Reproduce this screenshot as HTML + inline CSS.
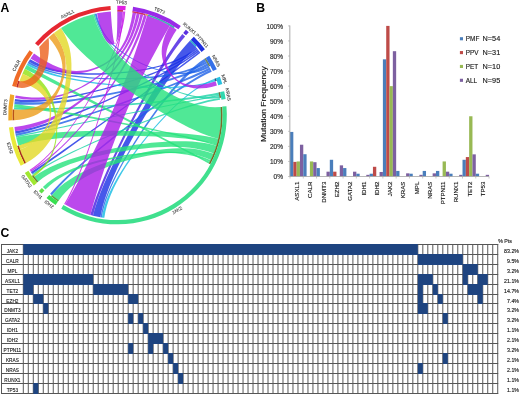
<!DOCTYPE html>
<html><head><meta charset="utf-8"><style>
html,body{margin:0;padding:0;background:#fff;}
body{width:520px;height:394px;overflow:hidden;}
svg{display:block;font-family:"Liberation Sans",sans-serif;will-change:transform;}
text{stroke:#1a1a1a;stroke-width:0.14px;}
text.lb{stroke:#444;stroke-width:0.1px;}
text.big{stroke:none;}
</style></head><body>
<svg width="520" height="394" viewBox="0 0 520 394">
<rect width="520" height="394" fill="#fff"/>
<g id="chords">
<path d="M189.93,40.78 A103.7,103.7 0 0 1 196.24,47.51 L191.78,51.56 187.40,55.97 183.09,60.71 178.83,65.75 174.62,71.07 170.46,76.63 166.34,82.41 162.26,88.38 158.22,94.52 154.22,100.81 150.26,107.22 146.34,113.73 142.48,120.31 138.68,126.96 134.95,133.65 131.31,140.35 127.76,147.07 124.32,153.77 121.00,160.44 117.83,167.08 114.82,173.66 112.00,180.17 109.39,186.61 107.01,192.95 104.89,199.20 103.06,205.34 101.55,211.37 L100.38,217.28 A103.7,103.7 0 0 1 92.94,215.75 L94.50,209.91 96.37,203.92 98.52,197.77 100.91,191.49 103.53,185.09 106.36,178.58 109.37,171.96 112.53,165.26 115.84,158.49 119.28,151.66 122.82,144.80 126.46,137.90 130.17,131.01 133.95,124.12 137.79,117.27 141.67,110.46 145.59,103.72 149.53,97.08 153.50,90.55 157.49,84.15 161.50,77.92 165.51,71.86 169.54,66.01 173.58,60.40 177.64,55.04 181.71,49.96 185.80,45.20 Z" fill="#182ee5" fill-opacity="0.8"/>
<path d="M196.24,47.51 A103.7,103.7 0 0 1 197.40,48.90 L192.69,52.46 187.71,55.63 182.49,58.45 177.03,60.94 171.36,63.15 165.51,65.10 159.50,66.82 153.33,68.33 147.05,69.65 140.65,70.81 134.17,71.80 127.63,72.65 121.03,73.35 114.41,73.92 107.78,74.35 101.15,74.64 94.55,74.78 88.00,74.77 81.50,74.58 75.09,74.21 68.77,73.64 62.57,72.84 56.49,71.79 50.56,70.45 44.79,68.80 39.20,66.80 33.80,64.41 L28.61,61.59 A103.7,103.7 0 0 1 30.14,59.13 L35.24,62.09 40.54,64.60 46.04,66.71 51.72,68.46 57.55,69.89 63.52,71.03 69.63,71.91 75.85,72.56 82.16,72.99 88.55,73.24 95.00,73.31 101.49,73.22 108.01,72.98 114.53,72.60 121.05,72.07 127.54,71.40 133.98,70.58 140.36,69.62 146.65,68.48 152.84,67.17 158.91,65.67 164.83,63.95 170.59,61.99 176.17,59.76 181.54,57.23 186.69,54.38 191.60,51.15 Z" fill="#182ee5" fill-opacity="0.8"/>
<path d="M197.40,48.90 A103.7,103.7 0 0 1 198.43,50.16 L193.63,53.76 188.49,57.16 183.04,60.38 177.31,63.44 171.32,66.36 165.11,69.16 158.69,71.83 152.08,74.41 145.33,76.89 138.44,79.28 131.43,81.58 124.34,83.81 117.19,85.94 109.99,88.00 102.76,89.96 95.53,91.83 88.31,93.58 81.12,95.23 73.99,96.74 66.92,98.11 59.94,99.31 53.05,100.34 46.29,101.15 39.65,101.75 33.17,102.08 26.84,102.14 20.68,101.89 L14.71,101.29 A103.7,103.7 0 0 1 15.05,98.96 L21.00,99.68 27.13,100.06 33.43,100.11 39.88,99.87 46.48,99.36 53.21,98.63 60.05,97.68 66.98,96.55 74.00,95.24 81.09,93.79 88.23,92.21 95.40,90.50 102.58,88.68 109.75,86.76 116.90,84.75 124.00,82.65 131.03,80.46 137.98,78.18 144.81,75.81 151.52,73.34 158.06,70.78 164.43,68.10 170.58,65.30 176.51,62.36 182.19,59.27 187.58,56.01 192.66,52.56 Z" fill="#182ee5" fill-opacity="0.8"/>
<path d="M198.43,50.16 A103.7,103.7 0 0 1 199.44,51.44 L194.58,55.05 189.39,58.62 183.90,62.16 178.13,65.68 172.11,69.17 165.87,72.64 159.42,76.09 152.79,79.52 146.01,82.94 139.10,86.33 132.09,89.69 124.98,93.03 117.82,96.33 110.61,99.59 103.37,102.79 96.13,105.94 88.91,109.01 81.73,112.00 74.59,114.89 67.53,117.66 60.55,120.32 53.68,122.82 46.93,125.17 40.32,127.33 33.85,129.29 27.55,131.02 21.43,132.51 L15.50,133.72 A103.7,103.7 0 0 1 15.08,131.22 L21.03,130.14 27.16,128.78 33.47,127.16 39.94,125.31 46.56,123.25 53.31,121.00 60.17,118.57 67.14,116.00 74.19,113.29 81.31,110.47 88.48,107.55 95.68,104.53 102.90,101.44 110.11,98.29 117.30,95.08 124.44,91.82 131.52,88.52 138.51,85.18 145.39,81.82 152.13,78.42 158.73,75.00 165.14,71.56 171.35,68.08 177.32,64.58 183.05,61.04 188.49,57.46 193.63,53.84 Z" fill="#182ee5" fill-opacity="0.8"/>
<path d="M199.44,51.44 A103.7,103.7 0 0 1 200.43,52.74 L195.56,56.38 190.44,60.18 185.10,64.13 179.54,68.22 173.80,72.43 167.88,76.75 161.82,81.18 155.62,85.68 149.30,90.27 142.89,94.91 136.40,99.60 129.86,104.33 123.27,109.08 116.66,113.84 110.05,118.59 103.46,123.33 96.90,128.04 90.39,132.70 83.95,137.31 77.60,141.84 71.36,146.29 65.24,150.64 59.27,154.88 53.45,158.99 47.81,162.96 42.37,166.78 37.14,170.42 L32.14,173.89 A103.7,103.7 0 0 1 30.93,172.08 L35.99,168.72 41.28,165.16 46.77,161.43 52.46,157.53 58.31,153.48 64.33,149.30 70.48,145.00 76.75,140.59 83.12,136.10 89.58,131.53 96.10,126.90 102.68,122.22 109.29,117.51 115.91,112.77 122.52,108.03 129.11,103.30 135.66,98.58 142.15,93.90 148.55,89.25 154.86,84.67 161.05,80.15 167.10,75.72 173.00,71.37 178.72,67.13 184.24,63.01 189.55,59.01 194.62,55.15 Z" fill="#182ee5" fill-opacity="0.8"/>
<path d="M204.57,58.67 A103.7,103.7 0 0 1 206.20,61.28 L201.19,64.56 196.28,68.22 191.47,72.25 186.73,76.60 182.06,81.24 177.46,86.15 172.91,91.29 168.41,96.64 163.97,102.17 159.57,107.87 155.23,113.69 150.95,119.63 146.74,125.66 142.60,131.77 138.54,137.93 134.58,144.14 130.73,150.36 127.01,156.60 123.43,162.84 120.02,169.06 116.80,175.26 113.79,181.43 111.02,187.57 108.51,193.65 106.31,199.70 104.43,205.69 102.92,211.62 L101.81,217.51 A103.7,103.7 0 0 1 100.38,217.28 L101.57,211.40 103.15,205.46 105.08,199.45 107.33,193.38 109.87,187.25 112.67,181.07 115.71,174.84 118.95,168.57 122.37,162.28 125.96,155.97 129.69,149.65 133.54,143.34 137.50,137.05 141.55,130.80 145.68,124.59 149.88,118.46 154.14,112.42 158.46,106.49 162.83,100.69 167.24,95.05 171.70,89.59 176.21,84.33 180.77,79.30 185.39,74.54 190.07,70.06 194.82,65.90 199.64,62.10 Z" fill="#1d60e7" fill-opacity="0.8"/>
<path d="M206.20,61.28 A103.7,103.7 0 0 1 207.40,63.31 L202.13,66.07 196.60,68.47 190.84,70.55 184.86,72.34 178.69,73.87 172.34,75.17 165.83,76.25 159.18,77.15 152.42,77.88 145.56,78.45 138.62,78.88 131.62,79.18 124.59,79.35 117.53,79.41 110.47,79.34 103.44,79.16 96.44,78.84 89.50,78.40 82.64,77.82 75.88,77.08 69.24,76.17 62.73,75.07 56.38,73.77 50.21,72.23 44.24,70.43 38.48,68.33 32.96,65.92 L27.69,63.15 A103.7,103.7 0 0 1 28.61,61.59 L33.82,64.44 39.29,66.93 44.98,69.07 50.89,70.92 56.99,72.50 63.27,73.83 69.70,74.95 76.27,75.87 82.95,76.62 89.73,77.21 96.59,77.65 103.51,77.95 110.46,78.13 117.44,78.17 124.41,78.10 131.36,77.90 138.28,77.57 145.13,77.11 151.91,76.50 158.59,75.73 165.16,74.79 171.59,73.64 177.86,72.29 183.95,70.69 189.86,68.82 195.54,66.65 201.00,64.15 Z" fill="#1d60e7" fill-opacity="0.8"/>
<path d="M207.40,63.31 A103.7,103.7 0 0 1 208.63,65.52 L203.26,68.26 197.57,70.85 191.58,73.31 185.33,75.64 178.83,77.86 172.12,79.98 165.21,82.02 158.14,83.97 150.91,85.85 143.56,87.67 136.11,89.41 128.58,91.09 121.00,92.71 113.38,94.26 105.74,95.75 98.11,97.16 90.51,98.48 82.96,99.72 75.48,100.86 68.08,101.89 60.80,102.79 53.64,103.55 46.62,104.16 39.77,104.59 33.10,104.83 26.64,104.85 20.38,104.64 L14.37,104.16 A103.7,103.7 0 0 1 14.71,101.29 L20.70,101.92 26.93,102.27 33.36,102.37 39.99,102.24 46.80,101.91 53.77,101.39 60.89,100.70 68.12,99.87 75.46,98.90 82.89,97.82 90.39,96.63 97.93,95.34 105.49,93.97 113.07,92.52 120.63,90.99 128.15,89.39 135.62,87.71 143.00,85.97 150.28,84.16 157.44,82.27 164.46,80.29 171.30,78.23 177.94,76.06 184.37,73.79 190.55,71.39 196.47,68.86 202.09,66.17 Z" fill="#1d60e7" fill-opacity="0.8"/>
<path d="M208.63,65.52 A103.7,103.7 0 0 1 209.65,67.44 L204.43,69.84 199.28,71.65 194.20,72.93 189.17,73.73 184.20,74.09 179.26,74.06 174.37,73.69 169.52,73.01 164.70,72.04 159.93,70.83 155.20,69.38 150.51,67.74 145.89,65.90 141.34,63.88 136.87,61.69 132.49,59.33 128.21,56.80 124.07,54.11 120.07,51.23 116.23,48.16 112.59,44.88 109.16,41.37 105.97,37.61 103.05,33.56 100.43,29.20 98.14,24.49 96.22,19.38 L94.70,13.84 A103.7,103.7 0 0 1 96.65,13.42 L98.05,18.98 99.86,24.10 102.03,28.81 104.54,33.16 107.34,37.19 110.42,40.93 113.73,44.41 117.26,47.65 120.98,50.68 124.86,53.51 128.89,56.16 133.04,58.64 137.30,60.94 141.66,63.07 146.10,65.03 150.60,66.81 155.17,68.39 159.79,69.77 164.46,70.91 169.17,71.80 173.92,72.41 178.72,72.71 183.56,72.65 188.45,72.20 193.39,71.31 198.39,69.94 203.47,68.03 Z" fill="#1d60e7" fill-opacity="0.8"/>
<path d="M209.65,67.44 A103.7,103.7 0 0 1 210.70,69.54 L205.22,72.14 199.43,74.76 193.35,77.38 187.02,80.01 180.45,82.66 173.68,85.31 166.71,87.98 159.59,90.65 152.32,93.33 144.93,96.00 137.45,98.67 129.89,101.33 122.28,103.98 114.63,106.60 106.98,109.20 99.34,111.76 91.73,114.28 84.18,116.74 76.70,119.14 69.31,121.47 62.04,123.72 54.90,125.87 47.91,127.91 41.10,129.83 34.48,131.62 28.07,133.26 21.89,134.73 L15.95,136.03 A103.7,103.7 0 0 1 15.50,133.72 L21.46,132.55 27.66,131.18 34.08,129.64 40.70,127.93 47.52,126.08 54.50,124.10 61.63,122.01 68.90,119.81 76.27,117.52 83.74,115.15 91.28,112.71 98.87,110.22 106.49,107.67 114.12,105.09 121.73,102.47 129.32,99.82 136.85,97.15 144.30,94.47 151.66,91.78 158.90,89.08 165.99,86.38 172.91,83.68 179.65,80.97 186.17,78.27 192.46,75.57 198.48,72.86 204.22,70.15 Z" fill="#1d60e7" fill-opacity="0.8"/>
<path d="M210.70,69.54 A103.7,103.7 0 0 1 211.71,71.67 L206.26,74.30 200.68,77.24 194.98,80.46 189.17,83.93 183.26,87.63 177.25,91.53 171.16,95.62 165.00,99.86 158.78,104.25 152.52,108.76 146.22,113.38 139.91,118.08 133.60,122.86 127.31,127.69 121.05,132.56 114.83,137.47 108.69,142.39 102.64,147.31 96.69,152.24 90.88,157.15 85.22,162.04 79.73,166.90 74.44,171.73 69.37,176.53 64.55,181.28 60.00,185.98 55.74,190.64 L51.82,195.25 A103.7,103.7 0 0 1 50.15,193.85 L54.17,189.32 58.50,184.72 63.13,180.06 68.02,175.35 73.15,170.58 78.50,165.77 84.04,160.92 89.75,156.03 95.61,151.12 101.59,146.19 107.68,141.25 113.86,136.31 120.10,131.38 126.39,126.48 132.71,121.62 139.04,116.81 145.37,112.07 151.68,107.41 157.95,102.85 164.17,98.41 170.33,94.10 176.42,89.95 182.42,85.98 188.32,82.20 194.10,78.65 199.77,75.34 205.31,72.29 Z" fill="#1d60e7" fill-opacity="0.8"/>
<path d="M182.34,34.07 A103.7,103.7 0 0 1 185.12,36.38 L181.27,41.05 177.43,46.05 173.61,51.35 169.80,56.93 166.00,62.77 162.20,68.82 158.41,75.09 154.62,81.52 150.85,88.12 147.09,94.84 143.35,101.67 139.63,108.59 135.95,115.58 132.30,122.61 128.71,129.66 125.17,136.73 121.71,143.78 118.33,150.79 115.05,157.77 111.89,164.67 108.86,171.50 105.97,178.22 103.26,184.84 100.73,191.33 98.41,197.68 96.32,203.87 94.49,209.90 L92.94,215.75 A103.7,103.7 0 0 1 90.31,215.07 L92.00,209.25 93.96,203.24 96.15,197.06 98.55,190.71 101.16,184.21 103.94,177.57 106.87,170.82 109.95,163.96 113.14,157.01 116.44,149.99 119.84,142.92 123.31,135.82 126.85,128.70 130.44,121.58 134.08,114.48 137.75,107.43 141.44,100.44 145.15,93.53 148.88,86.73 152.61,80.05 156.34,73.53 160.06,67.17 163.79,61.02 167.51,55.09 171.22,49.40 174.93,43.98 178.63,38.86 Z" fill="#451ae2" fill-opacity="0.8"/>
<path d="M214.63,78.68 A103.7,103.7 0 0 1 215.07,79.87 L209.57,82.11 204.20,84.77 198.95,87.83 193.80,91.25 188.75,94.98 183.78,99.01 178.88,103.29 174.05,107.80 169.28,112.51 164.58,117.40 159.95,122.44 155.39,127.62 150.91,132.90 146.51,138.28 142.21,143.74 138.02,149.26 133.96,154.83 130.04,160.45 126.28,166.09 122.71,171.76 119.35,177.46 116.23,183.17 113.38,188.89 110.83,194.64 108.61,200.40 106.76,206.19 105.32,212.00 L104.32,217.86 A103.7,103.7 0 0 1 101.81,217.51 L102.95,211.67 104.52,205.86 106.49,200.08 108.83,194.31 111.50,188.56 114.46,182.83 117.69,177.10 121.15,171.39 124.82,165.70 128.67,160.03 132.68,154.39 136.84,148.79 141.11,143.24 145.50,137.75 149.97,132.34 154.53,127.02 159.17,121.81 163.87,116.73 168.63,111.80 173.45,107.04 178.33,102.49 183.27,98.16 188.28,94.08 193.37,90.30 198.53,86.83 203.79,83.71 209.15,80.98 Z" fill="#10bae2" fill-opacity="0.8"/>
<path d="M215.07,79.87 A103.7,103.7 0 0 1 215.55,81.24 L209.82,83.00 203.85,84.45 197.65,85.62 191.24,86.53 184.64,87.22 177.88,87.69 170.96,87.99 163.91,88.12 156.75,88.11 149.50,87.95 142.18,87.68 134.80,87.30 127.39,86.81 119.97,86.22 112.55,85.54 105.17,84.76 97.83,83.88 90.57,82.90 83.40,81.82 76.34,80.61 69.42,79.29 62.65,77.82 56.07,76.19 49.68,74.39 43.53,72.40 37.61,70.20 31.97,67.75 L26.63,65.04 A103.7,103.7 0 0 1 27.69,63.15 L32.98,65.96 38.56,68.50 44.41,70.79 50.50,72.85 56.83,74.72 63.35,76.40 70.05,77.92 76.91,79.30 83.91,80.54 91.02,81.67 98.22,82.68 105.49,83.59 112.82,84.39 120.17,85.10 127.53,85.71 134.88,86.21 142.20,86.61 149.47,86.89 156.66,87.04 163.77,87.05 170.77,86.91 177.63,86.60 184.35,86.10 190.90,85.38 197.27,84.43 203.43,83.22 209.37,81.71 Z" fill="#10bae2" fill-opacity="0.8"/>
<path d="M218.70,92.38 A103.7,103.7 0 0 1 219.19,94.68 L213.22,95.80 206.96,96.86 200.42,97.86 193.62,98.80 186.60,99.69 179.37,100.54 171.96,101.35 164.39,102.13 156.68,102.87 148.85,103.58 140.94,104.27 132.95,104.92 124.92,105.55 116.86,106.15 108.80,106.72 100.76,107.26 92.76,107.76 84.83,108.23 76.98,108.65 69.24,109.03 61.64,109.36 54.19,109.63 46.91,109.83 39.84,109.96 32.98,110.01 26.36,109.97 20.01,109.82 L13.94,109.57 A103.7,103.7 0 0 1 14.08,107.41 L20.14,107.77 26.48,108.01 33.08,108.14 39.93,108.16 46.99,108.10 54.24,107.94 61.68,107.72 69.26,107.43 76.98,107.08 84.80,106.67 92.71,106.22 100.68,105.72 108.70,105.19 116.74,104.61 124.77,104.01 132.78,103.36 140.74,102.69 148.63,101.98 156.43,101.24 164.12,100.46 171.66,99.64 179.05,98.78 186.25,97.87 193.24,96.91 200.01,95.88 206.52,94.79 212.76,93.63 Z" fill="#1ad3a6" fill-opacity="0.8"/>
<path d="M219.19,94.68 A103.7,103.7 0 0 1 219.46,96.10 L213.49,97.22 207.22,98.41 200.70,99.66 193.93,100.97 186.94,102.34 179.75,103.76 172.38,105.22 164.86,106.72 157.21,108.25 149.45,109.80 141.60,111.39 133.69,112.99 125.73,114.60 117.75,116.22 109.77,117.84 101.81,119.47 93.90,121.09 86.06,122.70 78.31,124.30 70.67,125.88 63.16,127.44 55.81,128.97 48.64,130.48 41.67,131.95 34.92,133.39 28.43,134.78 22.20,136.14 L16.26,137.44 A103.7,103.7 0 0 1 15.95,136.03 L21.91,134.80 28.15,133.51 34.66,132.17 41.42,130.78 48.40,129.35 55.58,127.88 62.93,126.38 70.45,124.84 78.09,123.28 85.85,121.70 93.70,120.10 101.61,118.49 109.57,116.87 117.55,115.24 125.53,113.62 133.49,112.00 141.40,110.39 149.25,108.80 157.01,107.23 164.66,105.68 172.17,104.15 179.53,102.66 186.72,101.21 193.70,99.80 200.46,98.44 206.98,97.13 213.23,95.87 Z" fill="#1ad3a6" fill-opacity="0.8"/>
<path d="M219.46,96.10 A103.7,103.7 0 0 1 219.78,97.88 L213.98,98.58 208.28,98.75 202.65,98.44 197.09,97.71 191.59,96.58 186.14,95.10 180.74,93.31 175.38,91.25 170.07,88.93 164.81,86.40 159.59,83.66 154.44,80.75 149.35,77.67 144.34,74.45 139.41,71.10 134.60,67.62 129.90,64.01 125.35,60.28 120.95,56.42 116.75,52.44 112.75,48.32 109.00,44.04 105.51,39.60 102.32,34.98 99.47,30.15 96.99,25.09 94.91,19.77 L93.29,14.17 A103.7,103.7 0 0 1 94.70,13.84 L96.24,19.46 98.24,24.78 100.64,29.83 103.42,34.65 106.53,39.26 109.94,43.67 113.63,47.92 117.55,52.00 121.68,55.95 126.00,59.76 130.49,63.44 135.11,67.00 139.86,70.43 144.71,73.73 149.66,76.89 154.68,79.90 159.77,82.75 164.92,85.42 170.13,87.89 175.38,90.14 180.69,92.13 186.04,93.85 191.44,95.24 196.90,96.29 202.42,96.94 208.01,97.16 213.69,96.90 Z" fill="#1ad3a6" fill-opacity="0.8"/>
<path d="M219.78,97.88 A103.7,103.7 0 0 1 220.09,99.85 L214.12,100.86 207.95,102.12 201.59,103.63 195.05,105.35 188.36,107.27 181.52,109.36 174.55,111.61 167.48,114.00 160.31,116.51 153.06,119.14 145.76,121.85 138.42,124.65 131.07,127.51 123.71,130.44 116.37,133.42 109.07,136.45 101.84,139.51 94.69,142.60 87.65,145.72 80.74,148.87 73.98,152.04 67.39,155.24 61.01,158.46 54.85,161.71 48.94,164.99 43.31,168.31 37.97,171.67 L32.97,175.07 A103.7,103.7 0 0 1 32.14,173.89 L37.19,170.54 42.56,167.23 48.24,163.96 54.18,160.70 60.38,157.47 66.80,154.26 73.41,151.07 80.20,147.90 87.14,144.74 94.21,141.61 101.38,138.50 108.64,135.42 115.96,132.37 123.32,129.36 130.69,126.40 138.07,123.49 145.43,120.66 152.74,117.90 160.00,115.23 167.18,112.67 174.27,110.22 181.24,107.91 188.08,105.75 194.78,103.76 201.31,101.96 207.66,100.36 213.82,99.00 Z" fill="#1ad3a6" fill-opacity="0.8"/>
<path d="M218.46,138.68 A103.7,103.7 0 0 1 216.88,144.63 L211.05,143.05 204.94,141.67 198.58,140.49 191.97,139.48 185.15,138.62 178.14,137.90 170.95,137.31 163.61,136.82 156.14,136.43 148.56,136.13 140.90,135.92 133.17,135.78 125.40,135.72 117.61,135.72 109.82,135.80 102.05,135.95 94.32,136.16 86.66,136.46 79.09,136.83 71.62,137.30 64.29,137.86 57.11,138.54 50.10,139.33 43.29,140.26 36.69,141.34 30.34,142.59 24.25,144.02 L18.44,145.66 A103.7,103.7 0 0 1 16.26,137.44 L22.19,136.25 28.42,135.21 34.90,134.32 41.63,133.57 48.58,132.92 55.73,132.39 63.05,131.95 70.53,131.59 78.14,131.31 85.86,131.10 93.67,130.95 101.54,130.87 109.46,130.83 117.40,130.86 125.34,130.93 133.26,131.06 141.13,131.24 148.94,131.49 156.66,131.79 164.26,132.16 171.74,132.61 179.05,133.14 186.19,133.76 193.14,134.49 199.86,135.33 206.33,136.30 212.54,137.41 Z" fill="#24e27c" fill-opacity="0.8"/>
<path d="M216.93,144.45 A103.7,103.7 0 0 1 216.51,145.84 L210.69,144.09 204.57,142.37 198.17,140.67 191.52,138.99 184.63,137.32 177.53,135.67 170.25,134.04 162.80,132.41 155.22,130.80 147.52,129.20 139.72,127.62 131.85,126.06 123.93,124.51 115.98,122.99 108.03,121.49 100.10,120.03 92.20,118.60 84.37,117.22 76.61,115.88 68.97,114.60 61.44,113.38 54.07,112.23 46.86,111.17 39.84,110.19 33.03,109.32 26.46,108.55 20.13,107.91 L14.08,107.41 A103.7,103.7 0 0 1 14.37,104.16 L20.41,104.84 26.72,105.65 33.29,106.57 40.09,107.58 47.10,108.69 54.30,109.88 61.67,111.14 69.20,112.47 76.84,113.86 84.60,115.29 92.43,116.77 100.33,118.28 108.27,119.83 116.23,121.40 124.18,122.99 132.10,124.60 139.98,126.22 147.79,127.86 155.50,129.50 163.09,131.15 170.55,132.80 177.85,134.46 184.96,136.11 191.86,137.77 198.53,139.44 204.95,141.10 211.09,142.77 Z" fill="#24e27c" fill-opacity="0.8"/>
<path d="M216.51,145.84 A103.7,103.7 0 0 1 213.78,153.51 L208.18,151.53 202.39,149.94 196.42,148.73 190.28,147.84 184.00,147.25 177.58,146.92 171.04,146.83 164.39,146.96 157.66,147.27 150.86,147.76 144.00,148.40 137.11,149.19 130.20,150.11 123.29,151.15 116.40,152.32 109.55,153.60 102.76,155.01 96.04,156.54 89.43,158.20 82.93,160.00 76.58,161.96 70.40,164.09 64.40,166.40 58.62,168.93 53.07,171.69 47.77,174.71 42.76,178.02 L38.06,181.66 A103.7,103.7 0 0 1 34.14,176.68 L39.07,173.31 44.31,170.21 49.84,167.35 55.63,164.72 61.67,162.29 67.91,160.04 74.35,157.95 80.96,156.00 87.71,154.19 94.58,152.49 101.56,150.91 108.61,149.44 115.73,148.07 122.88,146.80 130.05,145.65 137.22,144.60 144.37,143.67 151.47,142.87 158.52,142.21 165.49,141.70 172.37,141.37 179.14,141.23 185.78,141.30 192.28,141.61 198.61,142.19 204.77,143.07 210.74,144.27 Z" fill="#24e27c" fill-opacity="0.8"/>
<path d="M213.65,153.85 A103.7,103.7 0 0 1 210.94,159.97 L205.55,157.67 200.07,155.88 194.49,154.55 188.83,153.64 183.09,153.10 177.27,152.89 171.40,152.98 165.47,153.34 159.50,153.94 153.50,154.76 147.47,155.77 141.44,156.96 135.43,158.32 129.43,159.84 123.47,161.50 117.58,163.31 111.75,165.27 106.02,167.39 100.41,169.66 94.93,172.11 89.60,174.74 84.46,177.58 79.52,180.65 74.81,183.98 70.35,187.59 66.17,191.51 62.30,195.79 L58.76,200.46 A103.7,103.7 0 0 1 51.82,195.25 L55.75,190.85 60.01,186.81 64.59,183.08 69.44,179.64 74.55,176.45 79.88,173.49 85.42,170.74 91.14,168.17 97.01,165.77 103.02,163.52 109.14,161.42 115.35,159.46 121.64,157.63 127.97,155.94 134.35,154.38 140.74,152.97 147.13,151.71 153.50,150.61 159.85,149.69 166.16,148.98 172.41,148.49 178.59,148.24 184.69,148.28 190.70,148.62 196.61,149.31 202.41,150.38 208.09,151.88 Z" fill="#24e27c" fill-opacity="0.8"/>
<path d="M210.78,160.30 A103.7,103.7 0 0 1 209.98,161.92 L204.61,159.48 199.08,157.51 193.39,155.95 187.57,154.76 181.61,153.91 175.54,153.36 169.37,153.08 163.11,153.05 156.78,153.23 150.38,153.60 143.94,154.16 137.48,154.88 131.00,155.75 124.53,156.77 118.08,157.93 111.67,159.22 105.33,160.66 99.06,162.24 92.89,163.97 86.85,165.88 80.94,167.96 75.20,170.24 69.65,172.75 64.30,175.50 59.18,178.53 54.32,181.86 49.74,185.54 L45.46,189.60 A103.7,103.7 0 0 1 42.90,187.04 L47.33,183.12 52.05,179.57 57.06,176.35 62.32,173.42 67.81,170.76 73.50,168.34 79.38,166.14 85.43,164.13 91.61,162.29 97.92,160.62 104.32,159.09 110.80,157.70 117.34,156.45 123.92,155.33 130.53,154.35 137.13,153.51 143.73,152.81 150.29,152.27 156.80,151.91 163.25,151.73 169.62,151.77 175.89,152.04 182.06,152.57 188.10,153.39 194.01,154.53 199.77,156.04 205.36,157.95 Z" fill="#24e27c" fill-opacity="0.8"/>
<path d="M209.90,162.08 A103.7,103.7 0 0 1 209.06,163.68 L203.69,160.84 198.05,157.86 192.17,154.77 186.06,151.57 179.74,148.27 173.24,144.89 166.58,141.42 159.78,137.89 152.85,134.30 145.82,130.66 138.70,126.99 131.53,123.28 124.31,119.56 117.07,115.83 109.83,112.10 102.61,108.39 95.43,104.70 88.30,101.04 81.26,97.43 74.31,93.87 67.49,90.38 60.80,86.97 54.27,83.65 47.92,80.42 41.76,77.31 35.83,74.31 30.13,71.45 L24.70,68.73 A103.7,103.7 0 0 1 26.63,65.04 L31.96,67.96 37.56,71.01 43.40,74.18 49.47,77.46 55.74,80.83 62.20,84.30 68.82,87.84 75.58,91.46 82.46,95.13 89.45,98.85 96.52,102.61 103.65,106.39 110.83,110.20 118.02,114.01 125.22,117.82 132.40,121.61 139.54,125.38 146.62,129.12 153.63,132.81 160.54,136.44 167.32,140.00 173.98,143.48 180.47,146.88 186.79,150.17 192.91,153.34 198.81,156.39 204.48,159.31 Z" fill="#24e27c" fill-opacity="0.8"/>
<path d="M147.13,15.62 A103.7,103.7 0 0 1 169.98,25.56 L166.92,30.81 163.76,36.34 160.52,42.12 157.21,48.15 153.85,54.39 150.46,60.85 147.05,67.49 143.64,74.30 140.24,81.26 136.86,88.35 133.52,95.56 130.22,102.86 126.99,110.23 123.82,117.66 120.73,125.12 117.73,132.59 114.82,140.05 112.01,147.47 109.30,154.85 106.71,162.15 104.23,169.35 101.87,176.44 99.63,183.37 97.52,190.15 95.53,196.72 93.66,203.09 91.93,209.21 L90.31,215.07 A103.7,103.7 0 0 1 65.18,204.53 L68.23,199.28 71.39,193.75 74.63,187.96 77.95,181.93 81.32,175.69 84.73,169.24 88.17,162.60 91.62,155.80 95.07,148.85 98.50,141.77 101.90,134.58 105.26,127.29 108.57,119.94 111.83,112.54 115.01,105.11 118.11,97.66 121.13,90.23 124.06,82.84 126.89,75.49 129.61,68.23 132.22,61.06 134.71,54.02 137.09,47.12 139.35,40.39 141.48,33.85 143.49,27.52 145.37,21.44 Z" fill="#aa1ae7" fill-opacity="0.8"/>
<path d="M169.98,25.56 A103.7,103.7 0 0 1 176.68,29.85 L173.62,34.53 171.16,38.88 169.24,42.92 167.80,46.69 166.81,50.22 166.21,53.53 165.96,56.64 166.02,59.58 166.37,62.35 166.98,64.98 167.81,67.47 168.86,69.82 170.11,72.04 171.55,74.12 173.17,76.07 174.96,77.88 176.94,79.53 179.10,81.01 181.46,82.31 184.04,83.40 186.85,84.27 189.91,84.87 193.26,85.19 196.93,85.20 200.94,84.84 205.36,84.10 210.21,82.91 L215.55,81.24 A103.7,103.7 0 0 1 216.93,85.55 L211.49,86.97 206.52,87.89 201.95,88.36 197.76,88.43 193.89,88.13 190.33,87.50 187.02,86.58 183.96,85.40 181.12,83.99 178.48,82.36 176.03,80.55 173.75,78.56 171.65,76.42 169.72,74.13 167.96,71.71 166.39,69.15 165.01,66.46 163.83,63.65 162.89,60.69 162.20,57.59 161.79,54.34 161.69,50.91 161.94,47.30 162.58,43.48 163.65,39.42 165.20,35.10 167.29,30.49 Z" fill="#aa1ae7" fill-opacity="0.8"/>
<path d="M132.65,12.41 A103.7,103.7 0 0 1 136.04,12.97 L134.30,21.16 132.30,28.31 130.07,34.56 127.64,40.00 125.05,44.75 122.32,48.89 119.47,52.52 116.53,55.70 113.51,58.50 110.42,60.97 107.26,63.17 104.04,65.13 100.75,66.88 97.40,68.44 93.97,69.81 90.44,71.00 86.81,72.00 83.04,72.79 79.12,73.35 75.00,73.63 70.67,73.58 66.09,73.17 61.20,72.31 55.96,70.94 50.34,68.98 44.26,66.32 37.68,62.87 L30.53,58.52 A103.7,103.7 0 0 1 34.03,53.46 L40.89,58.22 47.18,62.04 52.99,65.04 58.35,67.31 63.32,68.95 67.96,70.06 72.30,70.70 76.40,70.96 80.27,70.87 83.97,70.50 87.51,69.89 90.92,69.05 94.22,68.01 97.43,66.79 100.56,65.37 103.63,63.76 106.62,61.93 109.56,59.85 112.42,57.49 115.21,54.80 117.91,51.72 120.52,48.18 123.00,44.11 125.34,39.42 127.51,34.02 129.47,27.79 131.20,20.63 Z" fill="#aa1ae7" fill-opacity="0.8"/>
<path d="M136.75,13.10 A103.7,103.7 0 0 1 139.77,13.72 L137.69,21.95 135.30,29.33 132.64,35.97 129.75,41.96 126.68,47.36 123.44,52.27 120.08,56.75 116.60,60.86 113.02,64.65 109.37,68.17 105.63,71.46 101.83,74.56 97.95,77.49 93.99,80.27 89.94,82.92 85.77,85.43 81.49,87.81 77.04,90.06 72.41,92.14 67.57,94.06 62.46,95.76 57.05,97.22 51.29,98.40 45.13,99.25 38.50,99.71 31.35,99.71 23.60,99.19 L15.19,98.06 A103.7,103.7 0 0 1 15.67,95.39 L24.04,96.73 31.72,97.45 38.81,97.62 45.36,97.32 51.45,96.61 57.12,95.56 62.44,94.21 67.45,92.61 72.20,90.79 76.72,88.79 81.07,86.63 85.25,84.33 89.30,81.88 93.24,79.31 97.09,76.59 100.85,73.72 104.54,70.68 108.14,67.44 111.67,63.97 115.10,60.22 118.44,56.15 121.65,51.70 124.72,46.82 127.61,41.42 130.31,35.44 132.76,28.79 134.92,21.37 Z" fill="#aa1ae7" fill-opacity="0.8"/>
<path d="M140.47,13.88 A103.7,103.7 0 0 1 143.29,14.56 L140.92,22.80 138.27,30.37 135.37,37.32 132.27,43.75 128.99,49.70 125.57,55.24 122.03,60.42 118.39,65.30 114.67,69.91 110.87,74.30 107.00,78.50 103.07,82.55 99.07,86.46 94.99,90.26 90.82,93.96 86.55,97.58 82.15,101.12 77.60,104.57 72.87,107.94 67.93,111.21 62.74,114.38 57.24,117.41 51.41,120.30 45.17,123.00 38.49,125.48 31.29,127.71 23.51,129.64 L15.08,131.22 A103.7,103.7 0 0 1 14.49,126.92 L22.96,125.69 30.76,124.07 37.97,122.12 44.65,119.89 50.87,117.42 56.68,114.75 62.13,111.91 67.29,108.92 72.18,105.81 76.86,102.59 81.35,99.27 85.68,95.87 89.89,92.38 93.99,88.80 97.99,85.11 101.92,81.30 105.77,77.36 109.55,73.26 113.25,68.96 116.88,64.43 120.40,59.62 123.82,54.51 127.11,49.02 130.23,43.10 133.17,36.70 135.89,29.75 138.33,22.17 Z" fill="#aa1ae7" fill-opacity="0.8"/>
<path d="M143.99,14.74 A103.7,103.7 0 0 1 146.78,15.52 L144.17,23.79 141.37,31.58 138.42,38.93 135.33,45.90 132.14,52.52 128.86,58.84 125.51,64.90 122.10,70.73 118.64,76.35 115.14,81.82 111.59,87.14 108.00,92.36 104.36,97.49 100.67,102.55 96.91,107.56 93.07,112.53 89.13,117.49 85.08,122.44 80.88,127.39 76.51,132.35 71.93,137.31 67.12,142.29 62.04,147.27 56.63,152.26 50.87,157.24 44.70,162.22 38.07,167.17 L30.93,172.08 A103.7,103.7 0 0 1 30.14,170.87 L37.34,166.05 44.01,161.18 50.20,156.28 55.97,151.36 61.37,146.43 66.44,141.49 71.22,136.56 75.76,131.63 80.10,126.70 84.25,121.78 88.26,116.85 92.14,111.92 95.92,106.96 99.62,101.96 103.25,96.91 106.81,91.80 110.33,86.59 113.79,81.27 117.21,75.81 120.57,70.18 123.88,64.35 127.11,58.28 130.26,51.95 133.31,45.30 136.23,38.30 139.01,30.91 141.60,23.07 Z" fill="#aa1ae7" fill-opacity="0.8"/>
<path d="M117.32,11.30 A103.7,103.7 0 0 1 122.57,11.42 L122.23,16.96 121.80,21.80 121.29,25.99 120.71,29.61 120.06,32.72 119.35,35.37 118.59,37.60 117.78,39.46 116.93,40.99 116.04,42.21 115.11,43.15 114.16,43.83 113.19,44.26 112.20,44.45 111.18,44.41 110.15,44.13 109.11,43.60 108.06,42.81 107.00,41.73 105.93,40.35 104.85,38.64 103.76,36.54 102.66,34.03 101.56,31.06 100.44,27.56 99.31,23.49 98.16,18.77 L97.00,13.35 A103.7,103.7 0 0 1 110.81,11.52 L111.18,17.05 111.54,21.86 111.89,26.02 112.23,29.61 112.55,32.67 112.87,35.27 113.18,37.45 113.48,39.24 113.77,40.70 114.06,41.85 114.34,42.72 114.61,43.32 114.88,43.67 115.14,43.78 115.39,43.65 115.63,43.28 115.87,42.67 116.09,41.78 116.30,40.62 116.49,39.14 116.68,37.33 116.84,35.14 116.98,32.53 117.10,29.45 117.20,25.85 117.27,21.67 117.31,16.84 Z" fill="#a61ae7" fill-opacity="0.8"/>
<path d="M122.57,11.42 A103.7,103.7 0 0 1 124.01,11.50 L123.51,17.54 122.77,23.80 121.80,30.26 120.64,36.92 119.30,43.76 117.80,50.76 116.15,57.89 114.38,65.15 112.49,72.51 110.50,79.96 108.42,87.47 106.26,95.03 104.04,102.61 101.75,110.20 99.42,117.77 97.03,125.31 94.61,132.78 92.14,140.18 89.64,147.47 87.10,154.63 84.53,161.65 81.92,168.49 79.26,175.13 76.56,181.56 73.81,187.73 71.00,193.64 68.13,199.25 L65.18,204.53 A103.7,103.7 0 0 1 64.09,203.89 L67.10,198.64 70.02,193.06 72.87,187.19 75.65,181.04 78.37,174.65 81.05,168.04 83.67,161.22 86.26,154.23 88.80,147.10 91.30,139.83 93.76,132.46 96.18,125.01 98.56,117.50 100.88,109.95 103.15,102.38 105.36,94.82 107.49,87.29 109.54,79.79 111.51,72.36 113.36,65.02 115.11,57.77 116.71,50.65 118.17,43.67 119.46,36.84 120.57,30.18 121.47,23.72 122.14,17.46 Z" fill="#c410e7" fill-opacity="0.8"/>
<path d="M124.01,11.50 A103.7,103.7 0 0 1 125.28,11.59 L124.61,17.53 123.54,23.53 122.09,29.60 120.31,35.72 118.22,41.89 115.86,48.12 113.25,54.39 110.43,60.69 107.41,67.02 104.23,73.36 100.89,79.72 97.42,86.06 93.83,92.38 90.14,98.66 86.36,104.89 82.50,111.04 78.56,117.10 74.55,123.05 70.47,128.87 66.33,134.52 62.12,140.00 57.83,145.26 53.47,150.29 49.03,155.06 44.48,159.53 39.83,163.68 35.05,167.47 L30.14,170.87 A103.7,103.7 0 0 1 29.56,169.95 L34.50,166.60 39.30,162.86 43.97,158.76 48.52,154.33 52.97,149.61 57.33,144.62 61.61,139.40 65.81,133.96 69.94,128.35 74.00,122.57 77.99,116.65 81.91,110.63 85.75,104.51 89.51,98.31 93.17,92.06 96.73,85.77 100.17,79.46 103.47,73.14 106.62,66.82 109.60,60.51 112.38,54.23 114.94,47.98 117.26,41.78 119.29,35.61 121.02,29.50 122.41,23.45 123.42,17.45 Z" fill="#c410e7" fill-opacity="0.8"/>
<path d="M22.40,73.65 A103.7,103.7 0 0 1 24.70,68.73 L29.68,71.48 34.07,74.44 37.92,77.59 41.29,80.91 44.22,84.39 46.77,88.01 48.97,91.76 50.85,95.62 52.46,99.57 53.80,103.61 54.91,107.71 55.80,111.87 56.47,116.07 56.94,120.30 57.21,124.55 57.28,128.80 57.13,133.05 56.75,137.28 56.12,141.49 55.23,145.66 54.05,149.79 52.53,153.86 50.65,157.87 48.36,161.80 45.62,165.66 42.38,169.43 38.57,173.11 L34.14,176.68 A103.7,103.7 0 0 1 32.97,175.07 L37.46,171.60 41.31,168.04 44.59,164.42 47.36,160.72 49.66,156.96 51.54,153.14 53.05,149.27 54.23,145.36 55.10,141.41 55.70,137.43 56.05,133.44 56.17,129.43 56.06,125.43 55.75,121.44 55.23,117.46 54.51,113.52 53.57,109.63 52.40,105.79 51.00,102.03 49.33,98.34 47.37,94.76 45.09,91.28 42.46,87.93 39.44,84.73 35.97,81.68 32.01,78.81 27.51,76.12 Z" fill="#92e210" fill-opacity="0.8"/>
<path d="M19.45,81.24 A103.7,103.7 0 0 1 22.40,73.65 L27.48,76.06 31.88,78.55 35.68,81.12 38.94,83.76 41.70,86.47 44.03,89.24 45.97,92.06 47.55,94.93 48.82,97.83 49.79,100.77 50.50,103.73 50.97,106.71 51.20,109.70 51.21,112.69 50.99,115.66 50.55,118.63 49.88,121.57 48.97,124.47 47.79,127.33 46.32,130.14 44.54,132.89 42.41,135.57 39.90,138.17 36.95,140.68 33.52,143.09 29.55,145.39 24.98,147.57 L19.75,149.62 A103.7,103.7 0 0 1 18.44,145.66 L23.73,143.86 28.35,141.95 32.35,139.95 35.80,137.86 38.76,135.69 41.27,133.45 43.39,131.15 45.14,128.80 46.58,126.40 47.72,123.96 48.59,121.48 49.21,118.98 49.59,116.46 49.74,113.94 49.67,111.40 49.37,108.88 48.82,106.36 48.03,103.86 46.97,101.38 45.61,98.93 43.93,96.53 41.89,94.16 39.45,91.84 36.56,89.59 33.18,87.39 29.24,85.26 24.69,83.21 Z" fill="#e2d824" fill-opacity="0.8"/>
<path d="M39.24,46.97 A103.7,103.7 0 0 1 48.65,37.45 C51.5,72 36,91 17.52,87.46 A103.7,103.7 0 0 1 19.45,81.24 C31,82.5 43.5,70 39.24,46.97 Z" fill="#ec601a" fill-opacity="0.8"/>
<path d="M48.65,37.45 A103.7,103.7 0 0 1 53.94,33.06 L57.23,37.67 59.89,42.13 61.98,46.47 63.54,50.70 64.65,54.83 65.33,58.87 65.65,62.84 65.62,66.73 65.30,70.55 64.71,74.31 63.87,78.00 62.80,81.62 61.53,85.17 60.05,88.64 58.38,92.02 56.53,95.30 54.48,98.47 52.23,101.51 49.77,104.41 47.08,107.15 44.14,109.70 40.93,112.05 37.42,114.17 33.57,116.02 29.34,117.59 24.69,118.84 19.57,119.74 L13.93,120.25 A103.7,103.7 0 0 1 13.94,109.57 L19.57,109.68 24.64,109.39 29.23,108.75 33.37,107.79 37.12,106.54 40.51,105.04 43.59,103.30 46.37,101.36 48.90,99.23 51.19,96.94 53.25,94.51 55.11,91.94 56.77,89.26 58.24,86.48 59.50,83.60 60.56,80.63 61.40,77.58 62.02,74.44 62.38,71.23 62.46,67.93 62.24,64.54 61.68,61.05 60.74,57.46 59.38,53.75 57.54,49.91 55.18,45.93 52.24,41.78 Z" fill="#ec9c1a" fill-opacity="0.8"/>
<path d="M53.94,33.06 A103.7,103.7 0 0 1 61.02,28.03 L63.95,33.03 66.31,38.09 68.17,43.20 69.56,48.37 70.55,53.58 71.16,58.85 71.44,64.15 71.43,69.49 71.15,74.85 70.63,80.22 69.89,85.61 68.95,90.98 67.83,96.34 66.52,101.67 65.05,106.96 63.41,112.19 61.60,117.34 59.61,122.39 57.43,127.33 55.05,132.15 52.45,136.81 49.61,141.29 46.50,145.58 43.08,149.65 39.34,153.47 35.22,157.02 30.68,160.28 L25.68,163.20 A103.7,103.7 0 0 1 19.75,149.62 L25.06,147.46 29.86,144.98 34.21,142.20 38.14,139.14 41.71,135.84 44.94,132.32 47.88,128.60 50.55,124.70 52.98,120.65 55.19,116.46 57.19,112.16 58.99,107.76 60.61,103.28 62.05,98.73 63.30,94.13 64.36,89.48 65.21,84.80 65.85,80.10 66.26,75.39 66.40,70.67 66.26,65.95 65.80,61.23 64.98,56.52 63.76,51.81 62.10,47.12 59.95,42.43 57.25,37.74 Z" fill="#e2d824" fill-opacity="0.8"/>
<path d="M220.89,107.04 A103.7,103.7 0 0 1 218.46,138.68 L212.66,137.13 206.78,135.20 200.84,132.93 194.83,130.34 188.77,127.48 182.64,124.37 176.47,121.03 170.27,117.49 164.03,113.77 157.77,109.90 151.50,105.90 145.24,101.78 139.00,97.55 132.79,93.24 126.63,88.86 120.55,84.42 114.55,79.92 108.65,75.39 102.89,70.81 97.28,66.20 91.85,61.55 86.62,56.88 81.62,52.18 76.87,47.44 72.40,42.66 68.25,37.84 64.45,32.97 L61.02,28.03 A103.7,103.7 0 0 1 93.29,14.17 L94.92,19.80 97.00,25.18 99.49,30.35 102.36,35.32 105.57,40.13 109.09,44.78 112.87,49.28 116.90,53.67 121.14,57.93 125.57,62.09 130.16,66.13 134.90,70.07 139.76,73.89 144.72,77.60 149.78,81.19 154.91,84.64 160.11,87.93 165.37,91.06 170.69,94.00 176.05,96.72 181.46,99.21 186.91,101.42 192.42,103.34 197.97,104.92 203.59,106.12 209.27,106.90 215.04,107.23 Z" fill="#24e27c" fill-opacity="0.8"/>
<path d="M222.29,106.94 A105.1,105.1 0 0 1 210.30,164.34 L208.89,163.59 A103.5,103.5 0 0 0 220.69,107.06 Z" fill="#7a6a28"/>
<path d="M24.45,163.85 A105.1,105.1 0 0 1 17.10,146.08 L18.63,145.61 A103.5,103.5 0 0 0 25.86,163.11 Z" fill="#a83018"/>
<path d="M12.53,120.32 A105.1,105.1 0 0 1 12.54,109.50 L14.14,109.58 A103.5,103.5 0 0 0 14.13,120.24 Z" fill="#b85018"/>
<path d="M16.17,87.09 A105.1,105.1 0 0 1 18.13,80.78 L19.64,81.30 A103.5,103.5 0 0 0 17.72,87.51 Z" fill="#c02828"/>
<path d="M132.49,10.97 A105.1,105.1 0 0 1 145.59,13.72 L145.16,15.26 A103.5,103.5 0 0 0 132.26,12.56 Z" fill="#d03060"/>
<path d="M145.59,13.72 A105.1,105.1 0 0 1 148.23,14.49 L147.76,16.02 A103.5,103.5 0 0 0 145.16,15.26 Z" fill="#e09040"/>
<path d="M148.23,14.49 A105.1,105.1 0 0 1 174.74,26.86 L173.87,28.20 A103.5,103.5 0 0 0 147.76,16.02 Z" fill="#40b0b0"/>
<path d="M190.90,39.78 A105.1,105.1 0 0 1 196.82,46.05 L195.61,47.10 A103.5,103.5 0 0 0 189.79,40.93 Z" fill="#30b0c8"/>
<path d="M205.74,57.91 A105.1,105.1 0 0 1 210.30,65.66 L208.89,66.41 A103.5,103.5 0 0 0 204.40,58.78 Z" fill="#708858"/>
<path d="M220.07,92.07 A105.1,105.1 0 0 1 221.16,97.65 L219.58,97.92 A103.5,103.5 0 0 0 218.51,92.42 Z" fill="#707040"/>
<path d="M215.94,78.19 A105.1,105.1 0 0 1 216.87,80.78 L215.36,81.30 A103.5,103.5 0 0 0 214.45,78.75 Z" fill="#305080"/>
<path d="M117.32,9.90 A105.1,105.1 0 0 1 123.00,10.04 L122.92,11.64 A103.5,103.5 0 0 0 117.32,11.50 Z" fill="#d03050"/>
<path d="M57.97,201.62 A105.1,105.1 0 0 1 50.93,196.33 L51.95,195.09 A103.5,103.5 0 0 0 58.88,200.30 Z" fill="#60a040"/>
<path d="M36.99,182.56 A105.1,105.1 0 0 1 31.83,175.88 L33.13,174.96 A103.5,103.5 0 0 0 38.21,181.53 Z" fill="#708030"/>
</g>
<g id="ring">
<path d="M117.31,5.70 A109.3,109.3 0 0 1 125.70,6.01 L125.38,10.20 A105.1,105.1 0 0 0 117.32,9.90 Z" fill="#e020e0"/>
<path d="M133.09,6.82 A109.3,109.3 0 0 1 180.82,25.91 L178.38,29.33 A105.1,105.1 0 0 0 132.49,10.97 Z" fill="#9a2ae8"/>
<path d="M185.84,29.70 A109.3,109.3 0 0 1 188.77,32.14 L186.04,35.32 A105.1,105.1 0 0 0 183.21,32.98 Z" fill="#5a30e0"/>
<path d="M193.84,36.77 A109.3,109.3 0 0 1 204.91,49.37 L201.55,51.90 A105.1,105.1 0 0 0 190.90,39.78 Z" fill="#2030e0"/>
<path d="M209.27,55.63 A109.3,109.3 0 0 1 216.80,69.33 L212.98,71.08 A105.1,105.1 0 0 0 205.74,57.91 Z" fill="#3570e8"/>
<path d="M219.88,76.72 A109.3,109.3 0 0 1 222.30,83.96 L218.27,85.15 A105.1,105.1 0 0 0 215.94,78.19 Z" fill="#28c0e0"/>
<path d="M224.17,91.16 A109.3,109.3 0 0 1 225.63,99.03 L221.47,99.65 A105.1,105.1 0 0 0 220.07,92.07 Z" fill="#30d8b0"/>
<path d="M226.45,106.23 A109.3,109.3 0 0 1 61.21,208.69 L63.37,205.09 A105.1,105.1 0 0 0 222.26,106.57 Z" fill="#40e08e"/>
<path d="M55.59,205.08 A109.3,109.3 0 0 1 46.52,198.11 L49.24,194.92 A105.1,105.1 0 0 0 57.97,201.62 Z" fill="#38e050"/>
<path d="M41.57,193.62 A109.3,109.3 0 0 1 38.88,190.93 L41.90,188.01 A105.1,105.1 0 0 0 44.49,190.60 Z" fill="#60e048"/>
<path d="M33.89,185.40 A109.3,109.3 0 0 1 24.81,172.92 L28.37,170.69 A105.1,105.1 0 0 0 37.11,182.70 Z" fill="#a0e830"/>
<path d="M20.73,165.81 A109.3,109.3 0 0 1 8.92,127.56 L13.10,127.08 A105.1,105.1 0 0 0 24.45,163.85 Z" fill="#e8e838"/>
<path d="M8.34,120.53 A109.3,109.3 0 0 1 10.17,94.33 L14.30,95.13 A105.1,105.1 0 0 0 12.53,120.32 Z" fill="#f0a828"/>
<path d="M12.12,85.97 A109.3,109.3 0 0 1 29.53,50.14 L32.91,52.63 A105.1,105.1 0 0 0 16.17,87.09 Z" fill="#f06c28"/>
<path d="M35.01,43.29 A109.3,109.3 0 0 1 110.45,5.93 L110.72,10.12 A105.1,105.1 0 0 0 38.18,46.05 Z" fill="#e62832"/>
</g>
<g id="labels">
<text x="121.43" y="2.57" transform="rotate(2.00 121.43 2.57)" text-anchor="middle" dominant-baseline="central" class="lb" font-size="4.6" fill="#444">TP53</text>
<text x="159.64" y="10.69" transform="rotate(22.00 159.64 10.69)" text-anchor="middle" dominant-baseline="central" class="lb" font-size="4.6" fill="#444">TET2</text>
<text x="189.36" y="28.44" transform="rotate(39.70 189.36 28.44)" text-anchor="middle" dominant-baseline="central" class="lb" font-size="4.6" fill="#444">RUNX1</text>
<text x="202.02" y="40.75" transform="rotate(48.70 202.02 40.75)" text-anchor="middle" dominant-baseline="central" class="lb" font-size="4.6" fill="#444">PTPN11</text>
<text x="216.08" y="60.80" transform="rotate(61.20 216.08 60.80)" text-anchor="middle" dominant-baseline="central" class="lb" font-size="4.6" fill="#444">NRAS</text>
<text x="224.19" y="79.30" transform="rotate(71.50 224.19 79.30)" text-anchor="middle" dominant-baseline="central" class="lb" font-size="4.6" fill="#444">MPL</text>
<text x="228.12" y="94.50" transform="rotate(79.50 228.12 94.50)" text-anchor="middle" dominant-baseline="central" class="lb" font-size="4.6" fill="#444">KRAS</text>
<text x="177.12" y="210.41" transform="rotate(-32.00 177.12 210.41)" text-anchor="middle" dominant-baseline="central" class="lb" font-size="4.6" fill="#444">JAK2</text>
<text x="49.01" y="204.25" transform="rotate(37.50 49.01 204.25)" text-anchor="middle" dominant-baseline="central" class="lb" font-size="4.6" fill="#444">IDH2</text>
<text x="37.95" y="194.55" transform="rotate(45.00 37.95 194.55)" text-anchor="middle" dominant-baseline="central" class="lb" font-size="4.6" fill="#444">IDH1</text>
<text x="26.49" y="181.13" transform="rotate(54.00 26.49 181.13)" text-anchor="middle" dominant-baseline="central" class="lb" font-size="4.6" fill="#444">GATA2</text>
<text x="10.03" y="148.27" transform="rotate(72.80 10.03 148.27)" text-anchor="middle" dominant-baseline="central" class="lb" font-size="4.6" fill="#444">EZH2</text>
<text x="5.27" y="107.15" transform="rotate(274.00 5.27 107.15)" text-anchor="middle" dominant-baseline="central" class="lb" font-size="4.6" fill="#444">DNMT3</text>
<text x="16.39" y="65.68" transform="rotate(296.00 16.39 65.68)" text-anchor="middle" dominant-baseline="central" class="lb" font-size="4.6" fill="#444">CALR</text>
<text x="67.48" y="14.23" transform="rotate(333.60 67.48 14.23)" text-anchor="middle" dominant-baseline="central" class="lb" font-size="4.6" fill="#444">ASXL1</text>
</g>
<text x="0.6" y="11.9" class="big" font-size="12.2" font-weight="bold" fill="#000">A</text>
<text x="256.3" y="11.9" class="big" font-size="12.2" font-weight="bold" fill="#000">B</text>
<text x="0.5" y="236.9" class="big" font-size="12.2" font-weight="bold" fill="#000">C</text>
<g id="bars">
<rect x="290.00" y="131.92" width="3.32" height="44.58" fill="#4a7ebb"/>
<rect x="293.32" y="161.89" width="3.32" height="14.61" fill="#be4b48"/>
<rect x="296.63" y="161.44" width="3.32" height="15.06" fill="#98b954"/>
<rect x="299.95" y="144.72" width="3.32" height="31.78" fill="#7d60a0"/>
<rect x="303.27" y="154.21" width="3.32" height="22.29" fill="#4a7ebb"/>
<rect x="309.90" y="161.44" width="3.32" height="15.06" fill="#98b954"/>
<rect x="313.22" y="162.19" width="3.32" height="14.31" fill="#7d60a0"/>
<rect x="316.54" y="168.07" width="3.32" height="8.43" fill="#4a7ebb"/>
<rect x="326.49" y="171.68" width="3.32" height="4.82" fill="#7d60a0"/>
<rect x="329.81" y="159.78" width="3.32" height="16.72" fill="#4a7ebb"/>
<rect x="333.13" y="171.68" width="3.32" height="4.82" fill="#be4b48"/>
<rect x="339.76" y="165.36" width="3.32" height="11.14" fill="#7d60a0"/>
<rect x="343.08" y="168.07" width="3.32" height="8.43" fill="#4a7ebb"/>
<rect x="353.03" y="171.68" width="3.32" height="4.82" fill="#7d60a0"/>
<rect x="356.35" y="173.71" width="3.32" height="2.79" fill="#4a7ebb"/>
<rect x="366.30" y="174.84" width="3.32" height="1.66" fill="#7d60a0"/>
<rect x="369.62" y="173.71" width="3.32" height="2.79" fill="#4a7ebb"/>
<rect x="372.94" y="166.79" width="3.32" height="9.71" fill="#be4b48"/>
<rect x="379.57" y="171.98" width="3.32" height="4.52" fill="#7d60a0"/>
<rect x="382.89" y="59.33" width="3.32" height="117.17" fill="#4a7ebb"/>
<rect x="386.21" y="25.90" width="3.32" height="150.60" fill="#be4b48"/>
<rect x="389.52" y="86.14" width="3.32" height="90.36" fill="#98b954"/>
<rect x="392.84" y="51.20" width="3.32" height="125.30" fill="#7d60a0"/>
<rect x="396.16" y="170.93" width="3.32" height="5.57" fill="#4a7ebb"/>
<rect x="406.11" y="173.34" width="3.32" height="3.16" fill="#7d60a0"/>
<rect x="409.43" y="173.71" width="3.32" height="2.79" fill="#4a7ebb"/>
<rect x="419.38" y="174.84" width="3.32" height="1.66" fill="#7d60a0"/>
<rect x="422.70" y="170.93" width="3.32" height="5.57" fill="#4a7ebb"/>
<rect x="432.65" y="173.34" width="3.32" height="3.16" fill="#7d60a0"/>
<rect x="435.97" y="170.93" width="3.32" height="5.57" fill="#4a7ebb"/>
<rect x="442.61" y="161.44" width="3.32" height="15.06" fill="#98b954"/>
<rect x="445.92" y="171.68" width="3.32" height="4.82" fill="#7d60a0"/>
<rect x="449.24" y="173.71" width="3.32" height="2.79" fill="#4a7ebb"/>
<rect x="459.19" y="174.84" width="3.32" height="1.66" fill="#7d60a0"/>
<rect x="462.51" y="159.78" width="3.32" height="16.72" fill="#4a7ebb"/>
<rect x="465.83" y="157.07" width="3.32" height="19.43" fill="#be4b48"/>
<rect x="469.14" y="116.26" width="3.32" height="60.24" fill="#98b954"/>
<rect x="472.46" y="154.36" width="3.32" height="22.14" fill="#7d60a0"/>
<rect x="475.78" y="173.71" width="3.32" height="2.79" fill="#4a7ebb"/>
<rect x="485.73" y="174.84" width="3.32" height="1.66" fill="#7d60a0"/>
<line x1="289.8" y1="25.4" x2="289.8" y2="176.5" stroke="#b0b0b0" stroke-width="1.1"/>
<line x1="290.0" y1="176.5" x2="489.05" y2="176.5" stroke="#a6a6a6" stroke-width="0.8"/>
<line x1="288.0" y1="176.50" x2="290.0" y2="176.50" stroke="#a6a6a6" stroke-width="0.6"/>
<text x="283.0" y="179.10" text-anchor="end" font-size="6.5" fill="#2a2a2a">0%</text>
<line x1="288.0" y1="161.44" x2="290.0" y2="161.44" stroke="#a6a6a6" stroke-width="0.6"/>
<text x="283.0" y="164.04" text-anchor="end" font-size="6.5" fill="#2a2a2a">10%</text>
<line x1="288.0" y1="146.38" x2="290.0" y2="146.38" stroke="#a6a6a6" stroke-width="0.6"/>
<text x="283.0" y="148.98" text-anchor="end" font-size="6.5" fill="#2a2a2a">20%</text>
<line x1="288.0" y1="131.32" x2="290.0" y2="131.32" stroke="#a6a6a6" stroke-width="0.6"/>
<text x="283.0" y="133.92" text-anchor="end" font-size="6.5" fill="#2a2a2a">30%</text>
<line x1="288.0" y1="116.26" x2="290.0" y2="116.26" stroke="#a6a6a6" stroke-width="0.6"/>
<text x="283.0" y="118.86" text-anchor="end" font-size="6.5" fill="#2a2a2a">40%</text>
<line x1="288.0" y1="101.20" x2="290.0" y2="101.20" stroke="#a6a6a6" stroke-width="0.6"/>
<text x="283.0" y="103.80" text-anchor="end" font-size="6.5" fill="#2a2a2a">50%</text>
<line x1="288.0" y1="86.14" x2="290.0" y2="86.14" stroke="#a6a6a6" stroke-width="0.6"/>
<text x="283.0" y="88.74" text-anchor="end" font-size="6.5" fill="#2a2a2a">60%</text>
<line x1="288.0" y1="71.08" x2="290.0" y2="71.08" stroke="#a6a6a6" stroke-width="0.6"/>
<text x="283.0" y="73.68" text-anchor="end" font-size="6.5" fill="#2a2a2a">70%</text>
<line x1="288.0" y1="56.02" x2="290.0" y2="56.02" stroke="#a6a6a6" stroke-width="0.6"/>
<text x="283.0" y="58.62" text-anchor="end" font-size="6.5" fill="#2a2a2a">80%</text>
<line x1="288.0" y1="40.96" x2="290.0" y2="40.96" stroke="#a6a6a6" stroke-width="0.6"/>
<text x="283.0" y="43.56" text-anchor="end" font-size="6.5" fill="#2a2a2a">90%</text>
<line x1="288.0" y1="25.90" x2="290.0" y2="25.90" stroke="#a6a6a6" stroke-width="0.6"/>
<text x="283.0" y="28.50" text-anchor="end" font-size="6.5" fill="#2a2a2a">100%</text>
<line x1="290.00" y1="176.5" x2="290.00" y2="178.5" stroke="#a6a6a6" stroke-width="0.6"/>
<line x1="303.27" y1="176.5" x2="303.27" y2="178.5" stroke="#a6a6a6" stroke-width="0.6"/>
<line x1="316.54" y1="176.5" x2="316.54" y2="178.5" stroke="#a6a6a6" stroke-width="0.6"/>
<line x1="329.81" y1="176.5" x2="329.81" y2="178.5" stroke="#a6a6a6" stroke-width="0.6"/>
<line x1="343.08" y1="176.5" x2="343.08" y2="178.5" stroke="#a6a6a6" stroke-width="0.6"/>
<line x1="356.35" y1="176.5" x2="356.35" y2="178.5" stroke="#a6a6a6" stroke-width="0.6"/>
<line x1="369.62" y1="176.5" x2="369.62" y2="178.5" stroke="#a6a6a6" stroke-width="0.6"/>
<line x1="382.89" y1="176.5" x2="382.89" y2="178.5" stroke="#a6a6a6" stroke-width="0.6"/>
<line x1="396.16" y1="176.5" x2="396.16" y2="178.5" stroke="#a6a6a6" stroke-width="0.6"/>
<line x1="409.43" y1="176.5" x2="409.43" y2="178.5" stroke="#a6a6a6" stroke-width="0.6"/>
<line x1="422.70" y1="176.5" x2="422.70" y2="178.5" stroke="#a6a6a6" stroke-width="0.6"/>
<line x1="435.97" y1="176.5" x2="435.97" y2="178.5" stroke="#a6a6a6" stroke-width="0.6"/>
<line x1="449.24" y1="176.5" x2="449.24" y2="178.5" stroke="#a6a6a6" stroke-width="0.6"/>
<line x1="462.51" y1="176.5" x2="462.51" y2="178.5" stroke="#a6a6a6" stroke-width="0.6"/>
<line x1="475.78" y1="176.5" x2="475.78" y2="178.5" stroke="#a6a6a6" stroke-width="0.6"/>
<line x1="489.05" y1="176.5" x2="489.05" y2="178.5" stroke="#a6a6a6" stroke-width="0.6"/>
<text x="299.24" y="181.7" transform="rotate(-90 299.24 181.7)" text-anchor="end" font-size="6.1" fill="#1a1a1a">ASXL1</text>
<text x="312.50" y="181.7" transform="rotate(-90 312.50 181.7)" text-anchor="end" font-size="6.1" fill="#1a1a1a">CALR</text>
<text x="325.78" y="181.7" transform="rotate(-90 325.78 181.7)" text-anchor="end" font-size="6.1" fill="#1a1a1a">DNMT3</text>
<text x="339.05" y="181.7" transform="rotate(-90 339.05 181.7)" text-anchor="end" font-size="6.1" fill="#1a1a1a">EZH2</text>
<text x="352.31" y="181.7" transform="rotate(-90 352.31 181.7)" text-anchor="end" font-size="6.1" fill="#1a1a1a">GATA2</text>
<text x="365.59" y="181.7" transform="rotate(-90 365.59 181.7)" text-anchor="end" font-size="6.1" fill="#1a1a1a">IDH1</text>
<text x="378.86" y="181.7" transform="rotate(-90 378.86 181.7)" text-anchor="end" font-size="6.1" fill="#1a1a1a">IDH2</text>
<text x="392.12" y="181.7" transform="rotate(-90 392.12 181.7)" text-anchor="end" font-size="6.1" fill="#1a1a1a">JAK2</text>
<text x="405.40" y="181.7" transform="rotate(-90 405.40 181.7)" text-anchor="end" font-size="6.1" fill="#1a1a1a">KRAS</text>
<text x="418.67" y="181.7" transform="rotate(-90 418.67 181.7)" text-anchor="end" font-size="6.1" fill="#1a1a1a">MPL</text>
<text x="431.94" y="181.7" transform="rotate(-90 431.94 181.7)" text-anchor="end" font-size="6.1" fill="#1a1a1a">NRAS</text>
<text x="445.21" y="181.7" transform="rotate(-90 445.21 181.7)" text-anchor="end" font-size="6.1" fill="#1a1a1a">PTPN11</text>
<text x="458.48" y="181.7" transform="rotate(-90 458.48 181.7)" text-anchor="end" font-size="6.1" fill="#1a1a1a">RUNX1</text>
<text x="471.75" y="181.7" transform="rotate(-90 471.75 181.7)" text-anchor="end" font-size="6.1" fill="#1a1a1a">TET2</text>
<text x="485.01" y="181.7" transform="rotate(-90 485.01 181.7)" text-anchor="end" font-size="6.1" fill="#1a1a1a">TP53</text>
<text x="265.5" y="104" transform="rotate(-90 265.5 104)" text-anchor="middle" font-size="7.9" textLength="75.8" lengthAdjust="spacingAndGlyphs" fill="#111">Mutation Frequency</text>
<rect x="459.9" y="37.20" width="3.1" height="3.1" fill="#4a7ebb"/>
<text x="465.8" y="41.00" font-size="6.4" fill="#202020">PMF</text>
<text x="482.6" y="41.30" font-size="7.3" fill="#202020">N=54</text>
<rect x="459.9" y="51.05" width="3.1" height="3.1" fill="#be4b48"/>
<text x="465.8" y="54.85" font-size="6.4" fill="#202020">PPV</text>
<text x="482.6" y="55.15" font-size="7.3" fill="#202020">N=31</text>
<rect x="459.9" y="64.90" width="3.1" height="3.1" fill="#98b954"/>
<text x="465.8" y="68.70" font-size="6.4" fill="#202020">PET</text>
<text x="482.6" y="69.00" font-size="7.3" fill="#202020">N=10</text>
<rect x="459.9" y="78.75" width="3.1" height="3.1" fill="#7d60a0"/>
<text x="465.8" y="82.55" font-size="6.4" fill="#202020">ALL</text>
<text x="482.6" y="82.85" font-size="7.3" fill="#202020">N=95</text>
</g>
<g id="grid">
<path d="M23.30,244V394 M28.29,244V394 M33.29,244V394 M38.28,244V394 M43.28,244V394 M48.27,244V394 M53.26,244V394 M58.26,244V394 M63.25,244V394 M68.25,244V394 M73.24,244V394 M78.23,244V394 M83.23,244V394 M88.22,244V394 M93.22,244V394 M98.21,244V394 M103.20,244V394 M108.20,244V394 M113.19,244V394 M118.19,244V394 M123.18,244V394 M128.17,244V394 M133.17,244V394 M138.16,244V394 M143.16,244V394 M148.15,244V394 M153.14,244V394 M158.14,244V394 M163.13,244V394 M168.13,244V394 M173.12,244V394 M178.11,244V394 M183.11,244V394 M188.10,244V394 M193.10,244V394 M198.09,244V394 M203.08,244V394 M208.08,244V394 M213.07,244V394 M218.07,244V394 M223.06,244V394 M228.05,244V394 M233.05,244V394 M238.04,244V394 M243.04,244V394 M248.03,244V394 M253.02,244V394 M258.02,244V394 M263.01,244V394 M268.01,244V394 M273.00,244V394 M277.99,244V394 M282.99,244V394 M287.98,244V394 M292.98,244V394 M297.97,244V394 M302.96,244V394 M307.96,244V394 M312.95,244V394 M317.95,244V394 M322.94,244V394 M327.93,244V394 M332.93,244V394 M337.92,244V394 M342.92,244V394 M347.91,244V394 M352.90,244V394 M357.90,244V394 M362.89,244V394 M367.89,244V394 M372.88,244V394 M377.87,244V394 M382.87,244V394 M387.86,244V394 M392.86,244V394 M397.85,244V394 M402.84,244V394 M407.84,244V394 M412.83,244V394 M417.83,244V394 M422.82,244V394 M427.81,244V394 M432.81,244V394 M437.80,244V394 M442.80,244V394 M447.79,244V394 M452.78,244V394 M457.78,244V394 M462.77,244V394 M467.77,244V394 M472.76,244V394 M477.75,244V394 M482.75,244V394 M487.74,244V394 M492.74,244V394 M497.73,244V394 M1.5,244V394" stroke="#595959" stroke-width="1" fill="none"/>
<path d="M1,244.5H498.23 M1,254.5H498.23 M1,264.5H498.23 M1,274.5H498.23 M1,284.5H498.23 M1,294.5H498.23 M1,303.5H498.23 M1,313.5H498.23 M1,323.5H498.23 M1,333.5H498.23 M1,343.5H498.23 M1,353.5H498.23 M1,363.5H498.23 M1,373.5H498.23 M1,383.5H498.23 M1,393.5H498.23" stroke="#555" stroke-width="1" fill="none"/>
<rect x="23.30" y="244" width="394.53" height="11" fill="#1e4480"/>
<rect x="417.83" y="254" width="44.95" height="11" fill="#1e4480"/>
<rect x="462.77" y="264" width="14.98" height="11" fill="#1e4480"/>
<rect x="23.30" y="274" width="69.92" height="11" fill="#1e4480"/>
<rect x="417.83" y="274" width="14.98" height="11" fill="#1e4480"/>
<rect x="462.77" y="274" width="4.99" height="11" fill="#1e4480"/>
<rect x="477.75" y="274" width="9.99" height="11" fill="#1e4480"/>
<rect x="23.30" y="284" width="9.99" height="11" fill="#1e4480"/>
<rect x="93.22" y="284" width="34.96" height="11" fill="#1e4480"/>
<rect x="417.83" y="284" width="4.99" height="11" fill="#1e4480"/>
<rect x="432.81" y="284" width="4.99" height="11" fill="#1e4480"/>
<rect x="467.77" y="284" width="14.98" height="11" fill="#1e4480"/>
<rect x="33.29" y="294" width="9.99" height="10" fill="#1e4480"/>
<rect x="128.17" y="294" width="9.99" height="10" fill="#1e4480"/>
<rect x="417.83" y="294" width="4.99" height="10" fill="#1e4480"/>
<rect x="437.80" y="294" width="4.99" height="10" fill="#1e4480"/>
<rect x="477.75" y="294" width="4.99" height="10" fill="#1e4480"/>
<rect x="43.28" y="303" width="4.99" height="11" fill="#1e4480"/>
<rect x="417.83" y="303" width="9.99" height="11" fill="#1e4480"/>
<rect x="128.17" y="313" width="4.99" height="11" fill="#1e4480"/>
<rect x="138.16" y="313" width="4.99" height="11" fill="#1e4480"/>
<rect x="442.80" y="313" width="4.99" height="11" fill="#1e4480"/>
<rect x="143.16" y="323" width="4.99" height="11" fill="#1e4480"/>
<rect x="148.15" y="333" width="14.98" height="11" fill="#1e4480"/>
<rect x="128.17" y="343" width="4.99" height="11" fill="#1e4480"/>
<rect x="148.15" y="343" width="4.99" height="11" fill="#1e4480"/>
<rect x="163.13" y="343" width="4.99" height="11" fill="#1e4480"/>
<rect x="168.13" y="353" width="4.99" height="11" fill="#1e4480"/>
<rect x="442.80" y="353" width="4.99" height="11" fill="#1e4480"/>
<rect x="173.12" y="363" width="4.99" height="11" fill="#1e4480"/>
<rect x="417.83" y="363" width="4.99" height="11" fill="#1e4480"/>
<rect x="178.11" y="373" width="4.99" height="11" fill="#1e4480"/>
<rect x="33.29" y="383" width="4.99" height="11" fill="#1e4480"/>
<text x="0" y="0" transform="translate(12.4 252.50) scale(0.85 1)" text-anchor="middle" font-size="5.6" fill="#1a1a1a">JAK2</text>
<text x="0" y="0" transform="translate(519.0 252.50) scale(0.94 1)" text-anchor="end" font-size="5.6" fill="#1a1a1a">83.2%</text>
<text x="0" y="0" transform="translate(12.4 262.50) scale(0.85 1)" text-anchor="middle" font-size="5.6" fill="#1a1a1a">CALR</text>
<text x="0" y="0" transform="translate(519.0 262.50) scale(0.94 1)" text-anchor="end" font-size="5.6" fill="#1a1a1a">9.5%</text>
<text x="0" y="0" transform="translate(12.4 272.50) scale(0.85 1)" text-anchor="middle" font-size="5.6" fill="#1a1a1a">MPL</text>
<text x="0" y="0" transform="translate(519.0 272.50) scale(0.94 1)" text-anchor="end" font-size="5.6" fill="#1a1a1a">3.2%</text>
<text x="0" y="0" transform="translate(12.4 282.50) scale(0.85 1)" text-anchor="middle" font-size="5.6" fill="#1a1a1a">ASXL1</text>
<text x="0" y="0" transform="translate(519.0 282.50) scale(0.94 1)" text-anchor="end" font-size="5.6" fill="#1a1a1a">21.1%</text>
<text x="0" y="0" transform="translate(12.4 292.50) scale(0.85 1)" text-anchor="middle" font-size="5.6" fill="#1a1a1a">TET2</text>
<text x="0" y="0" transform="translate(519.0 292.50) scale(0.94 1)" text-anchor="end" font-size="5.6" fill="#1a1a1a">14.7%</text>
<text x="0" y="0" transform="translate(12.4 302.50) scale(0.85 1)" text-anchor="middle" font-size="5.6" fill="#1a1a1a">EZH2</text>
<text x="0" y="0" transform="translate(519.0 302.50) scale(0.94 1)" text-anchor="end" font-size="5.6" fill="#1a1a1a">7.4%</text>
<text x="0" y="0" transform="translate(12.4 311.50) scale(0.85 1)" text-anchor="middle" font-size="5.6" fill="#1a1a1a">DNMT3</text>
<text x="0" y="0" transform="translate(519.0 311.50) scale(0.94 1)" text-anchor="end" font-size="5.6" fill="#1a1a1a">3.2%</text>
<text x="0" y="0" transform="translate(12.4 321.50) scale(0.85 1)" text-anchor="middle" font-size="5.6" fill="#1a1a1a">GATA2</text>
<text x="0" y="0" transform="translate(519.0 321.50) scale(0.94 1)" text-anchor="end" font-size="5.6" fill="#1a1a1a">3.2%</text>
<text x="0" y="0" transform="translate(12.4 331.50) scale(0.85 1)" text-anchor="middle" font-size="5.6" fill="#1a1a1a">IDH1</text>
<text x="0" y="0" transform="translate(519.0 331.50) scale(0.94 1)" text-anchor="end" font-size="5.6" fill="#1a1a1a">1.1%</text>
<text x="0" y="0" transform="translate(12.4 341.50) scale(0.85 1)" text-anchor="middle" font-size="5.6" fill="#1a1a1a">IDH2</text>
<text x="0" y="0" transform="translate(519.0 341.50) scale(0.94 1)" text-anchor="end" font-size="5.6" fill="#1a1a1a">2.1%</text>
<text x="0" y="0" transform="translate(12.4 351.50) scale(0.85 1)" text-anchor="middle" font-size="5.6" fill="#1a1a1a">PTPN11</text>
<text x="0" y="0" transform="translate(519.0 351.50) scale(0.94 1)" text-anchor="end" font-size="5.6" fill="#1a1a1a">3.2%</text>
<text x="0" y="0" transform="translate(12.4 361.50) scale(0.85 1)" text-anchor="middle" font-size="5.6" fill="#1a1a1a">KRAS</text>
<text x="0" y="0" transform="translate(519.0 361.50) scale(0.94 1)" text-anchor="end" font-size="5.6" fill="#1a1a1a">2.1%</text>
<text x="0" y="0" transform="translate(12.4 371.50) scale(0.85 1)" text-anchor="middle" font-size="5.6" fill="#1a1a1a">NRAS</text>
<text x="0" y="0" transform="translate(519.0 371.50) scale(0.94 1)" text-anchor="end" font-size="5.6" fill="#1a1a1a">2.1%</text>
<text x="0" y="0" transform="translate(12.4 381.50) scale(0.85 1)" text-anchor="middle" font-size="5.6" fill="#1a1a1a">RUNX1</text>
<text x="0" y="0" transform="translate(519.0 381.50) scale(0.94 1)" text-anchor="end" font-size="5.6" fill="#1a1a1a">1.1%</text>
<text x="0" y="0" transform="translate(12.4 391.50) scale(0.85 1)" text-anchor="middle" font-size="5.6" fill="#1a1a1a">TP53</text>
<text x="0" y="0" transform="translate(519.0 391.50) scale(0.94 1)" text-anchor="end" font-size="5.6" fill="#1a1a1a">1.1%</text>
<text x="0" y="0" transform="translate(498.2 242.7) scale(0.94 1)" font-size="5.6" fill="#1a1a1a">% Pts</text>
</g>
</svg>
</body></html>
